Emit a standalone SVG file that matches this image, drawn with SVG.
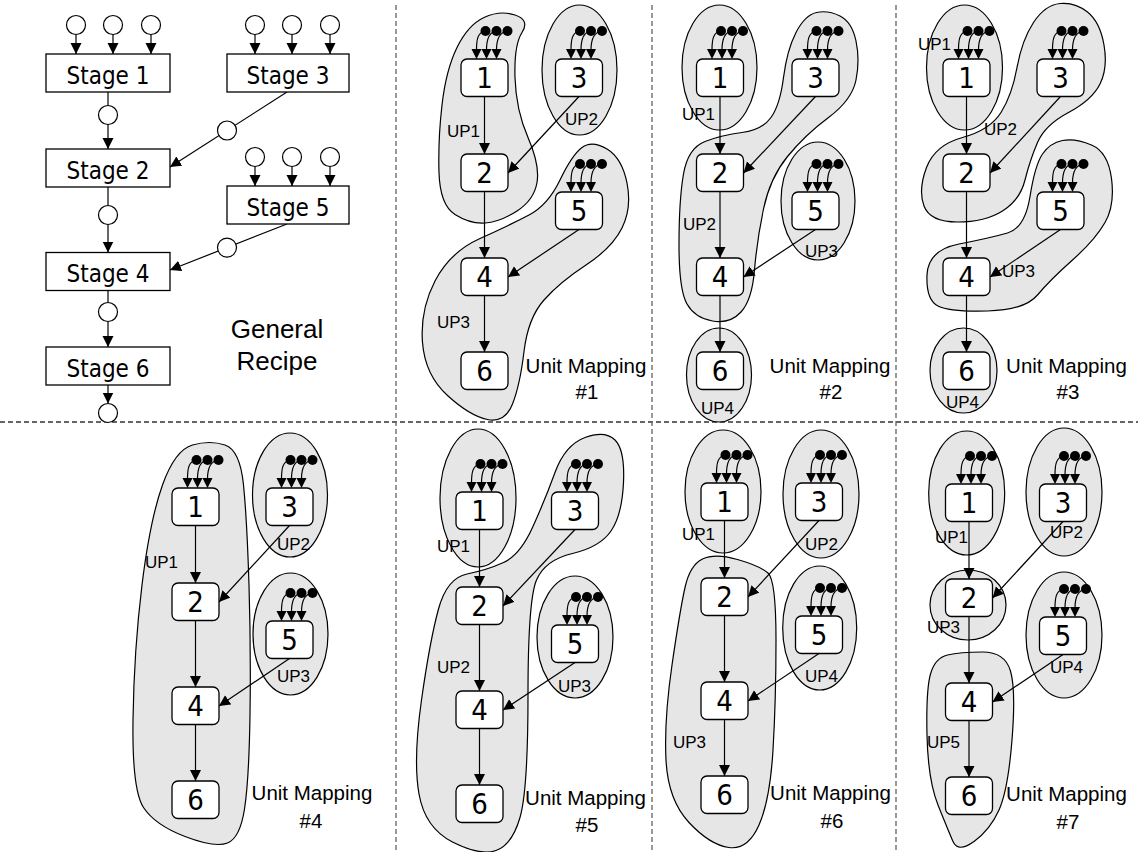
<svg xmlns="http://www.w3.org/2000/svg" width="1138" height="852" viewBox="0 0 1138 852">
<style>
.hull{fill:#e6e6e6;stroke:#000;stroke-width:1.2}
.node rect{fill:#fff;stroke:#000;stroke-width:1.3}
.node text{font-family:"DejaVu Sans Condensed","DejaVu Sans",sans-serif;font-stretch:condensed;font-size:29px;text-anchor:middle}
.stage rect{fill:#fff;stroke:#000;stroke-width:1.3}
.stage text{font-family:"DejaVu Sans Condensed","DejaVu Sans",sans-serif;font-stretch:condensed;font-size:24px;text-anchor:middle}
.edge{stroke:#000;stroke-width:1.2;fill:none;marker-end:url(#ah)}
.port{fill:#fff;stroke:#000;stroke-width:1.2}
.lbl{font-family:"Liberation Sans",Arial,sans-serif;font-size:17px}
.title{font-family:"Liberation Sans",Arial,sans-serif;font-size:20.5px;text-anchor:middle}
.big{font-family:"Liberation Sans",Arial,sans-serif;font-size:26px;text-anchor:middle}
.vdiv{stroke:#333;stroke-width:1;stroke-dasharray:5 3}
.hdiv{stroke:#666;stroke-width:2;stroke-dasharray:5 3}
</style>
<defs>
<marker id="ah" markerWidth="12" markerHeight="12" refX="11" refY="5.5" orient="auto" markerUnits="userSpaceOnUse"><path d="M0,0 L11,5.5 L0,11 Z" fill="#000"/></marker>
<g id="inp">
<path d="M1,-28 C-7,-27 -8,-19 -8,-9 M12,-28 C4,-27 2,-19 2,-9 M23,-28 C15,-27 12,-19 12,-9" fill="none" stroke="#000" stroke-width="1.2"/>
<path d="M-13,-10 L-3,-10 L-8,0 Z M-3,-10 L7,-10 L2,0 Z M7,-10 L17,-10 L12,0 Z" fill="#000"/>
<circle cx="1" cy="-28" r="5" fill="#000"/><circle cx="12" cy="-28" r="5" fill="#000"/><circle cx="23" cy="-28" r="5" fill="#000"/>
</g>
</defs>
<rect width="1138" height="852" fill="#fff"/>

<g id="dividers">
<line class="vdiv" x1="396" y1="5" x2="396" y2="852"/>
<line class="vdiv" x1="652" y1="5" x2="652" y2="852"/>
<line class="vdiv" x1="896" y1="5" x2="896" y2="852"/>
<line class="hdiv" x1="0" y1="422" x2="1138" y2="422"/>
</g>

<g id="hulls">
<path class="hull" d="M515,15 Q530,20 522,32.5 Q514,45 515,77.5 Q516,110 528,137.5 Q540,165 537,182.5 Q534,200 517,211 Q500,222 485,223 Q470,224 455,214.5 Q440,205 439,172.5 Q438,140 442,105 Q446,70 457,47.5 Q468,25 484,17.5 Q500,10 515,15 Z"/>
<ellipse class="hull" cx="579.5" cy="70" rx="37.5" ry="65"/>
<path class="hull" d="M582,147.5 Q592,140 607,149 Q622,158 627,183 Q632,208 622,228 Q612,248 586,265 Q560,282 544,300 Q528,318 524,351.5 Q520,385 512.5,404 Q505,423 487.5,419.5 Q470,416 447.5,395.5 Q425,375 422.5,342.5 Q420,310 435,281 Q450,252 480,238.5 Q510,225 529,215 Q548,205 560,180 Q572,155 582,147.5 Z"/>
<ellipse class="hull" cx="719.5" cy="67.5" rx="37.5" ry="62.5"/>
<path class="hull" d="M816.5,12.5 Q828,10 840,16 Q852,22 856,41 Q860,60 856,80 Q852,100 828.5,117.5 Q805,135 787.5,156.5 Q770,178 763.5,209 Q757,240 754.5,270 Q752,300 741,312 Q730,324 712.5,321 Q695,318 687,304 Q679,290 679,245 Q679,200 683.5,174 Q688,148 705,141.5 Q722,135 742,132.5 Q762,130 771,117.5 Q780,105 783.5,77.5 Q787,50 796,32.5 Q805,15 816.5,12.5 Z"/>
<ellipse class="hull" cx="818" cy="201" rx="37" ry="59"/>
<ellipse class="hull" cx="719" cy="375" rx="32.5" ry="47"/>
<ellipse class="hull" cx="964.5" cy="67.5" rx="38" ry="62.5"/>
<path class="hull" d="M1060,3.5 Q1075,2 1087.5,12 Q1100,22 1104,45 Q1108,68 1100,84 Q1092,100 1068.5,112.5 Q1045,125 1037.5,142.5 Q1030,160 1025,180 Q1020,200 1002.5,211 Q985,222 957.5,222 Q930,222 924,206 Q918,190 926.5,167.5 Q935,145 962.5,137.5 Q990,130 1001,112.5 Q1012,95 1017,67.5 Q1022,40 1033.5,22.5 Q1045,5 1060,3.5 Z"/>
<path class="hull" d="M1062.5,140.5 Q1075,138 1091.5,145 Q1108,152 1111.5,178.5 Q1115,205 1105,222.5 Q1095,240 1072.5,260 Q1050,280 1037.5,295 Q1025,310 987.5,311 Q950,312 938,306 Q926,300 927,275 Q928,250 959,244 Q990,238 1007.5,233 Q1025,228 1030,196.5 Q1035,165 1042.5,154 Q1050,143 1062.5,140.5 Z"/>
<ellipse class="hull" cx="963.5" cy="370.5" rx="33.5" ry="42.5"/>
<path class="hull" d="M192.5,445 Q210,440 225,445 Q240,450 243.5,485 Q247,520 249,585 Q251,650 250,715 Q249,780 244.5,809 Q240,838 227.5,843 Q215,848 185,836.5 Q155,825 143.5,807.5 Q132,790 133,720 Q134,650 142,585 Q150,520 162.5,485 Q175,450 192.5,445 Z"/>
<ellipse class="hull" cx="290" cy="495" rx="37.5" ry="62"/>
<ellipse class="hull" cx="290.5" cy="634" rx="37.5" ry="61"/>
<ellipse class="hull" cx="478" cy="498" rx="38" ry="69"/>
<path class="hull" d="M585,437.5 Q605,430 615,440 Q625,450 623.5,482.5 Q622,515 611,531 Q600,547 572.5,553.5 Q545,560 536.5,580 Q528,600 528,695 Q528,790 520,817.5 Q512,845 496,850.5 Q480,856 452.5,842 Q425,828 419,794 Q413,760 421.5,700 Q430,640 438.5,609 Q447,578 467,574 Q487,570 503.5,562.5 Q520,555 532.5,527.5 Q545,500 555,472.5 Q565,445 585,437.5 Z"/>
<ellipse class="hull" cx="575" cy="637" rx="38" ry="61"/>
<ellipse class="hull" cx="723" cy="491.5" rx="38" ry="61.5"/>
<ellipse class="hull" cx="821" cy="494" rx="38" ry="64"/>
<ellipse class="hull" cx="819.7" cy="628" rx="37" ry="62"/>
<path class="hull" d="M702.5,559 Q715,553 737.5,559.5 Q760,566 768,573 Q776,580 776,640 Q776,700 773,750 Q770,800 759,825 Q748,850 729,847.5 Q710,845 689,822.5 Q668,800 666,760 Q664,720 672,665 Q680,610 685,587.5 Q690,565 702.5,559 Z"/>
<ellipse class="hull" cx="966.7" cy="493" rx="38" ry="62"/>
<ellipse class="hull" cx="1064" cy="492" rx="38" ry="64"/>
<ellipse class="hull" cx="968" cy="605" rx="38" ry="35"/>
<ellipse class="hull" cx="1064" cy="635" rx="38" ry="63"/>
<path class="hull" d="M947.5,655 Q960,652 982.5,652 Q1005,652 1010.5,671 Q1016,690 1012,740 Q1008,790 999,810 Q990,830 974,841.5 Q958,853 953,841.5 Q948,830 938,805 Q928,780 927,735 Q926,690 930.5,674 Q935,658 947.5,655 Z"/>
</g>

<g id="connectors">
<line class="edge" x1="76" y1="25" x2="76" y2="54"/>
<line class="edge" x1="113" y1="25" x2="113" y2="54"/>
<line class="edge" x1="151" y1="25" x2="151" y2="54"/>
<line class="edge" x1="255" y1="25" x2="255" y2="54"/>
<line class="edge" x1="292" y1="25" x2="292" y2="54"/>
<line class="edge" x1="330" y1="25" x2="330" y2="54"/>
<line class="edge" x1="255" y1="157" x2="255" y2="186"/>
<line class="edge" x1="292" y1="157" x2="292" y2="186"/>
<line class="edge" x1="330" y1="157" x2="330" y2="186"/>
<line class="edge" x1="108" y1="92" x2="108" y2="149"/>
<line class="edge" x1="287" y1="92" x2="170" y2="167"/>
<line class="edge" x1="108" y1="187" x2="108" y2="252.5"/>
<line class="edge" x1="287" y1="224" x2="170" y2="270"/>
<line class="edge" x1="108" y1="290.5" x2="108" y2="347"/>
<line class="edge" x1="108" y1="385" x2="108" y2="403.5"/>
<line class="edge" x1="484.5" y1="96.5" x2="484.5" y2="154"/>
<line class="edge" x1="579" y1="96.5" x2="508" y2="173"/>
<line class="edge" x1="484.5" y1="191.5" x2="484.5" y2="258"/>
<line class="edge" x1="579" y1="229.5" x2="508" y2="277"/>
<line class="edge" x1="484.5" y1="295.5" x2="484.5" y2="352"/>
<line class="edge" x1="720" y1="96.5" x2="720" y2="154"/>
<line class="edge" x1="815.5" y1="96.5" x2="743.5" y2="173"/>
<line class="edge" x1="720" y1="191.5" x2="720" y2="258"/>
<line class="edge" x1="815.5" y1="229.5" x2="743.5" y2="277"/>
<line class="edge" x1="720" y1="295.5" x2="720" y2="352"/>
<line class="edge" x1="966.5" y1="96.5" x2="966.5" y2="154"/>
<line class="edge" x1="1060.5" y1="96.5" x2="990" y2="173"/>
<line class="edge" x1="966.5" y1="191.5" x2="966.5" y2="258"/>
<line class="edge" x1="1060.5" y1="229.5" x2="990" y2="277"/>
<line class="edge" x1="966.5" y1="295.5" x2="966.5" y2="352"/>
<line class="edge" x1="195.5" y1="525.5" x2="195.5" y2="583"/>
<line class="edge" x1="289.5" y1="525.5" x2="219" y2="602"/>
<line class="edge" x1="195.5" y1="620.5" x2="195.5" y2="687"/>
<line class="edge" x1="289.5" y1="658.5" x2="219" y2="706"/>
<line class="edge" x1="195.5" y1="724.5" x2="195.5" y2="781"/>
<line class="edge" x1="479.5" y1="529.5" x2="479.5" y2="587"/>
<line class="edge" x1="575" y1="529.5" x2="503" y2="606"/>
<line class="edge" x1="479.5" y1="624.5" x2="479.5" y2="691"/>
<line class="edge" x1="575" y1="662.5" x2="503" y2="710"/>
<line class="edge" x1="479.5" y1="728.5" x2="479.5" y2="785"/>
<line class="edge" x1="724.5" y1="520.5" x2="724.5" y2="578"/>
<line class="edge" x1="819" y1="520.5" x2="748" y2="597"/>
<line class="edge" x1="724.5" y1="615.5" x2="724.5" y2="682"/>
<line class="edge" x1="819" y1="653.5" x2="748" y2="701"/>
<line class="edge" x1="724.5" y1="719.5" x2="724.5" y2="776"/>
<line class="edge" x1="969" y1="521.5" x2="969" y2="579"/>
<line class="edge" x1="1063" y1="521.5" x2="992.5" y2="598"/>
<line class="edge" x1="969" y1="616.5" x2="969" y2="683"/>
<line class="edge" x1="1063" y1="654.5" x2="992.5" y2="702"/>
<line class="edge" x1="969" y1="720.5" x2="969" y2="777"/>
</g>

<g id="ports">
<circle class="port" cx="76" cy="25" r="9.5"/><circle class="port" cx="113" cy="25" r="9.5"/><circle class="port" cx="151" cy="25" r="9.5"/>
<circle class="port" cx="255" cy="25" r="9.5"/><circle class="port" cx="292" cy="25" r="9.5"/><circle class="port" cx="330" cy="25" r="9.5"/>
<circle class="port" cx="255" cy="157" r="9.5"/><circle class="port" cx="292" cy="157" r="9.5"/><circle class="port" cx="330" cy="157" r="9.5"/>
<circle class="port" cx="108" cy="115" r="9.5"/>
<circle class="port" cx="227" cy="130.5" r="9.5"/>
<circle class="port" cx="108" cy="215" r="9.5"/>
<circle class="port" cx="227" cy="247.6" r="9.5"/>
<circle class="port" cx="108" cy="312" r="9.5"/>
<circle class="port" cx="108" cy="413" r="9.5"/>
</g>

<g id="recipe">
<g id="stage1" class="stage"><rect x="46" y="54" width="124" height="38"/><text x="108" y="83.5">Stage 1</text></g>
<g id="stage3" class="stage"><rect x="227" y="54" width="122" height="38"/><text x="288" y="83.5">Stage 3</text></g>
<g id="stage2" class="stage"><rect x="46" y="149" width="124" height="38"/><text x="108" y="178.5">Stage 2</text></g>
<g id="stage5" class="stage"><rect x="227" y="186" width="122" height="38"/><text x="288" y="215.5">Stage 5</text></g>
<g id="stage4" class="stage"><rect x="46" y="252.5" width="124" height="38"/><text x="108" y="282">Stage 4</text></g>
<g id="stage6" class="stage"><rect x="46" y="347" width="124" height="38"/><text x="108" y="376.5">Stage 6</text></g>
<text class="big" x="277" y="338">General</text>
<text class="big" x="277" y="370">Recipe</text>
</g>

<g id="map1">
<g id="m1n1" class="node"><use href="#inp" x="484.5" y="59"/><rect x="461" y="59" width="47" height="37.5" rx="6"/><text x="484.5" y="87.5">1</text></g>
<g id="m1n3" class="node"><use href="#inp" x="579" y="59"/><rect x="555.5" y="59" width="47" height="37.5" rx="6"/><text x="579" y="87.5">3</text></g>
<g id="m1n2" class="node"><rect x="461" y="154" width="47" height="37.5" rx="6"/><text x="484.5" y="182.5">2</text></g>
<g id="m1n5" class="node"><use href="#inp" x="579" y="192"/><rect x="555.5" y="192" width="47" height="37.5" rx="6"/><text x="579" y="220.5">5</text></g>
<g id="m1n4" class="node"><rect x="461" y="258" width="47" height="37.5" rx="6"/><text x="484.5" y="286.5">4</text></g>
<g id="m1n6" class="node"><rect x="461" y="352" width="47" height="37.5" rx="6"/><text x="484.5" y="380.5">6</text></g>
<text class="lbl" x="447" y="137">UP1</text><text class="lbl" x="565" y="125">UP2</text><text class="lbl" x="437" y="328">UP3</text>
<text class="title" x="586" y="373">Unit Mapping</text><text class="title" x="587" y="399">#1</text>
</g>

<g id="map2">
<g id="m2n1" class="node"><use href="#inp" x="720" y="59"/><rect x="696.5" y="59" width="47" height="37.5" rx="6"/><text x="720" y="87.5">1</text></g>
<g id="m2n3" class="node"><use href="#inp" x="815.5" y="59"/><rect x="792" y="59" width="47" height="37.5" rx="6"/><text x="815.5" y="87.5">3</text></g>
<g id="m2n2" class="node"><rect x="696.5" y="154" width="47" height="37.5" rx="6"/><text x="720" y="182.5">2</text></g>
<g id="m2n5" class="node"><use href="#inp" x="815.5" y="192"/><rect x="792" y="192" width="47" height="37.5" rx="6"/><text x="815.5" y="220.5">5</text></g>
<g id="m2n4" class="node"><rect x="696.5" y="258" width="47" height="37.5" rx="6"/><text x="720" y="286.5">4</text></g>
<g id="m2n6" class="node"><rect x="696.5" y="352" width="47" height="37.5" rx="6"/><text x="720" y="380.5">6</text></g>
<text class="lbl" x="682" y="120">UP1</text><text class="lbl" x="683" y="230">UP2</text><text class="lbl" x="805" y="257">UP3</text><text class="lbl" x="701" y="414">UP4</text>
<text class="title" x="830" y="373">Unit Mapping</text><text class="title" x="831" y="399">#2</text>
</g>

<g id="map3">
<g id="m3n1" class="node"><use href="#inp" x="966.5" y="59"/><rect x="943" y="59" width="47" height="37.5" rx="6"/><text x="966.5" y="87.5">1</text></g>
<g id="m3n3" class="node"><use href="#inp" x="1060.5" y="59"/><rect x="1037" y="59" width="47" height="37.5" rx="6"/><text x="1060.5" y="87.5">3</text></g>
<g id="m3n2" class="node"><rect x="943" y="154" width="47" height="37.5" rx="6"/><text x="966.5" y="182.5">2</text></g>
<g id="m3n5" class="node"><use href="#inp" x="1060.5" y="192"/><rect x="1037" y="192" width="47" height="37.5" rx="6"/><text x="1060.5" y="220.5">5</text></g>
<g id="m3n4" class="node"><rect x="943" y="258" width="47" height="37.5" rx="6"/><text x="966.5" y="286.5">4</text></g>
<g id="m3n6" class="node"><rect x="943" y="352" width="47" height="37.5" rx="6"/><text x="966.5" y="380.5">6</text></g>
<text class="lbl" x="918" y="50">UP1</text><text class="lbl" x="984" y="135">UP2</text><text class="lbl" x="1002" y="277">UP3</text><text class="lbl" x="946" y="408">UP4</text>
<text class="title" x="1066.5" y="373">Unit Mapping</text><text class="title" x="1068" y="399">#3</text>
</g>

<g id="map4">
<g id="m4n1" class="node"><use href="#inp" x="195.5" y="488"/><rect x="172" y="488" width="47" height="37.5" rx="6"/><text x="195.5" y="516.5">1</text></g>
<g id="m4n3" class="node"><use href="#inp" x="289.5" y="488"/><rect x="266" y="488" width="47" height="37.5" rx="6"/><text x="289.5" y="516.5">3</text></g>
<g id="m4n2" class="node"><rect x="172" y="583" width="47" height="37.5" rx="6"/><text x="195.5" y="611.5">2</text></g>
<g id="m4n5" class="node"><use href="#inp" x="289.5" y="621"/><rect x="266" y="621" width="47" height="37.5" rx="6"/><text x="289.5" y="649.5">5</text></g>
<g id="m4n4" class="node"><rect x="172" y="687" width="47" height="37.5" rx="6"/><text x="195.5" y="715.5">4</text></g>
<g id="m4n6" class="node"><rect x="172" y="781" width="47" height="37.5" rx="6"/><text x="195.5" y="809.5">6</text></g>
<text class="lbl" x="145" y="568">UP1</text><text class="lbl" x="277" y="550">UP2</text><text class="lbl" x="277" y="682">UP3</text>
<text class="title" x="312" y="800">Unit Mapping</text><text class="title" x="311" y="828">#4</text>
</g>

<g id="map5">
<g id="m5n1" class="node"><use href="#inp" x="479.5" y="492"/><rect x="456" y="492" width="47" height="37.5" rx="6"/><text x="479.5" y="520.5">1</text></g>
<g id="m5n3" class="node"><use href="#inp" x="575" y="492"/><rect x="551.5" y="492" width="47" height="37.5" rx="6"/><text x="575" y="520.5">3</text></g>
<g id="m5n2" class="node"><rect x="456" y="587" width="47" height="37.5" rx="6"/><text x="479.5" y="615.5">2</text></g>
<g id="m5n5" class="node"><use href="#inp" x="575" y="625"/><rect x="551.5" y="625" width="47" height="37.5" rx="6"/><text x="575" y="653.5">5</text></g>
<g id="m5n4" class="node"><rect x="456" y="691" width="47" height="37.5" rx="6"/><text x="479.5" y="719.5">4</text></g>
<g id="m5n6" class="node"><rect x="456" y="785" width="47" height="37.5" rx="6"/><text x="479.5" y="813.5">6</text></g>
<text class="lbl" x="437" y="552">UP1</text><text class="lbl" x="437" y="673">UP2</text><text class="lbl" x="558" y="692">UP3</text>
<text class="title" x="585.5" y="805">Unit Mapping</text><text class="title" x="587" y="832">#5</text>
</g>

<g id="map6">
<g id="m6n1" class="node"><use href="#inp" x="724.5" y="483"/><rect x="701" y="483" width="47" height="37.5" rx="6"/><text x="724.5" y="511.5">1</text></g>
<g id="m6n3" class="node"><use href="#inp" x="819" y="483"/><rect x="795.5" y="483" width="47" height="37.5" rx="6"/><text x="819" y="511.5">3</text></g>
<g id="m6n2" class="node"><rect x="701" y="578" width="47" height="37.5" rx="6"/><text x="724.5" y="606.5">2</text></g>
<g id="m6n5" class="node"><use href="#inp" x="819" y="616"/><rect x="795.5" y="616" width="47" height="37.5" rx="6"/><text x="819" y="644.5">5</text></g>
<g id="m6n4" class="node"><rect x="701" y="682" width="47" height="37.5" rx="6"/><text x="724.5" y="710.5">4</text></g>
<g id="m6n6" class="node"><rect x="701" y="776" width="47" height="37.5" rx="6"/><text x="724.5" y="804.5">6</text></g>
<text class="lbl" x="682" y="540">UP1</text><text class="lbl" x="805" y="550">UP2</text><text class="lbl" x="805" y="682">UP4</text><text class="lbl" x="673" y="748">UP3</text>
<text class="title" x="830.5" y="800">Unit Mapping</text><text class="title" x="832" y="828">#6</text>
</g>

<g id="map7">
<g id="m7n1" class="node"><use href="#inp" x="969" y="484"/><rect x="945.5" y="484" width="47" height="37.5" rx="6"/><text x="969" y="512.5">1</text></g>
<g id="m7n3" class="node"><use href="#inp" x="1063" y="484"/><rect x="1039.5" y="484" width="47" height="37.5" rx="6"/><text x="1063" y="512.5">3</text></g>
<g id="m7n2" class="node"><rect x="945.5" y="579" width="47" height="37.5" rx="6"/><text x="969" y="607.5">2</text></g>
<g id="m7n5" class="node"><use href="#inp" x="1063" y="617"/><rect x="1039.5" y="617" width="47" height="37.5" rx="6"/><text x="1063" y="645.5">5</text></g>
<g id="m7n4" class="node"><rect x="945.5" y="683" width="47" height="37.5" rx="6"/><text x="969" y="711.5">4</text></g>
<g id="m7n6" class="node"><rect x="945.5" y="777" width="47" height="37.5" rx="6"/><text x="969" y="805.5">6</text></g>
<text class="lbl" x="935" y="543">UP1</text><text class="lbl" x="1050" y="538">UP2</text><text class="lbl" x="927" y="633">UP3</text><text class="lbl" x="1050" y="673">UP4</text><text class="lbl" x="927" y="748">UP5</text>
<text class="title" x="1066.5" y="801">Unit Mapping</text><text class="title" x="1068" y="829">#7</text>
</g>
</svg>
